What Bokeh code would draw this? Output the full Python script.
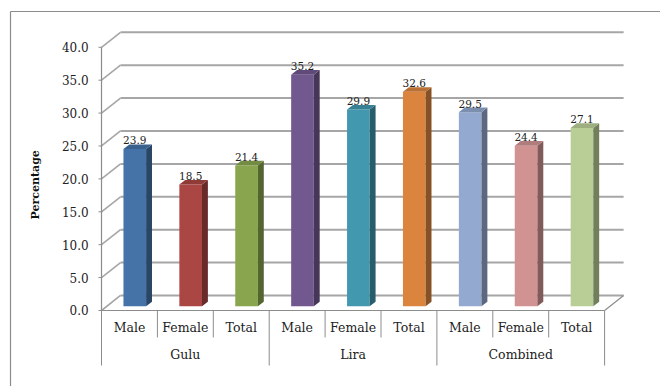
import math
from bokeh.plotting import figure
from bokeh.models import Range1d
from bokeh.core.properties import value
from bokeh.embed import file_html
from bokeh.resources import INLINE

# ---- data ----
GROUPS = ["Gulu", "Lira", "Combined"]
SUBS = ["Male", "Female", "Total"]
VALUES = [23.9, 18.5, 21.4, 35.2, 29.9, 32.6, 29.5, 24.4, 27.1]
COLORS = ["#4572A7", "#AA4643", "#89A54E", "#71588F", "#4198AF",
          "#DB843D", "#93A9CF", "#D19392", "#B9CD96"]
Y_TICKS = [0, 5, 10, 15, 20, 25, 30, 35, 40]
Y_LABEL = "Percentage"

# ---- styling / geometry (data units) ----
DX, DY = 0.34, 2.28          # depth of the 3D box
F0, F1 = 0.28, 0.59          # bar front / back depth fraction
W = 0.405                    # bar width
SUB_Y, GRP_Y = -2.54, -6.69
SUB_DIV, GRP_DIV = -4.1, -8.36
TICK_LEN, TICK_LBL_X = 0.054, -0.23
YLAB_X, YLAB_Y = -1.18, 19.1
BORDER_L, BORDER_T = -1.628, 45.44
SERIF = "DejaVu Serif"
GRID = "#a6a6a6"
AXC = "#8c8c8c"
TXT = "#222222"


def shade(c, f):
    r, g, b = int(c[1:3], 16), int(c[3:5], 16), int(c[5:7], 16)
    return "#%02x%02x%02x" % (int(r * f), int(g * f), int(b * f))


n = len(VALUES)
p = figure(width=660, height=386, output_backend="svg", toolbar_location=None,
           x_axis_location=None, y_axis_location=None,
           x_range=Range1d(-1.807, 10.0), y_range=Range1d(-11.55, 47.11),
           min_border=0)
p.background_fill_color = "white"
p.border_fill_color = "white"
p.outline_line_color = None
p.grid.visible = False

# outer chart border
p.segment(x0=[BORDER_L, BORDER_L], y0=[BORDER_T, BORDER_T],
          x1=[12, BORDER_L], y1=[BORDER_T, -14],
          line_color=AXC, line_width=1.2)

# back wall gridlines and left-wall diagonals
p.segment(x0=[DX] * len(Y_TICKS), y0=[t + DY for t in Y_TICKS],
          x1=[n + DX] * len(Y_TICKS), y1=[t + DY for t in Y_TICKS],
          line_color=GRID, line_width=2)
p.segment(x0=[0] * len(Y_TICKS), y0=Y_TICKS,
          x1=[DX] * len(Y_TICKS), y1=[t + DY for t in Y_TICKS],
          line_color=GRID, line_width=1.6)
# front value axis: line, ticks, labels
p.segment(x0=[0], y0=[Y_TICKS[0]], x1=[0], y1=[Y_TICKS[-1]],
          line_color=AXC, line_width=1.2)
p.segment(x0=[-TICK_LEN] * len(Y_TICKS), y0=Y_TICKS, x1=[0] * len(Y_TICKS),
          y1=Y_TICKS, line_color=AXC, line_width=1)
p.text(x=[TICK_LBL_X] * len(Y_TICKS), y=Y_TICKS,
       text=["%.1f" % t for t in Y_TICKS],
       text_font=value(SERIF), text_font_size="12px", text_color=TXT,
       text_align="right", text_baseline="middle")
p.text(x=[YLAB_X], y=[YLAB_Y], text=[Y_LABEL], angle=math.pi / 2,
       text_font=value(SERIF), text_font_size="11px", text_font_style="bold",
       text_color="#111111", text_align="center", text_baseline="middle")
# floor edges
p.segment(x0=[0, n], y0=[0, 0], x1=[n, n + DX], y1=[0, DY],
          line_color=AXC, line_width=1.2)

# bars
cx = [i + 0.5 for i in range(n)]
L = [c - W / 2 for c in cx]
R = [c + W / 2 for c in cx]
fx, fy, bx, by = F0 * DX, F0 * DY, F1 * DX, F1 * DY
p.quad(left=[l + fx for l in L], right=[r + fx for r in R],
       bottom=[fy] * n, top=[v + fy for v in VALUES],
       fill_color=COLORS, line_color=None)
side_xs = [[r + fx, r + bx, r + bx, r + fx] for r in R]
side_ys = [[fy, by, v + by, v + fy] for v in VALUES]
p.patches(side_xs, side_ys, fill_color=[shade(c, 0.62) for c in COLORS],
          line_color=None)
top_xs = [[l + fx, r + fx, r + bx, l + bx] for l, r in zip(L, R)]
top_ys = [[v + fy, v + fy, v + by, v + by] for v in VALUES]
p.patches(top_xs, top_ys, fill_color=[shade(c, 0.85) for c in COLORS],
          line_color=None)

# data labels
p.text(x=[c + fx for c in cx], y=[v + by for v in VALUES],
       text=["%.1f" % v for v in VALUES], y_offset=-4,
       text_font=value(SERIF), text_font_size="10.5px", text_color=TXT,
       text_align="center", text_baseline="alphabetic")

# category axis (two levels)
p.text(x=cx, y=[SUB_Y] * n, text=SUBS * len(GROUPS),
       text_font=value(SERIF), text_font_size="12.5px", text_color=TXT,
       text_align="center", text_baseline="middle")
gcx = [g * len(SUBS) + len(SUBS) / 2 for g in range(len(GROUPS))]
p.text(x=gcx, y=[GRP_Y] * len(GROUPS), text=GROUPS,
       text_font=value(SERIF), text_font_size="12.5px", text_color=TXT,
       text_align="center", text_baseline="middle")
sub_div = [i for i in range(1, n) if i % len(SUBS) != 0]
grp_div = [g * len(SUBS) for g in range(len(GROUPS) + 1)]
p.segment(x0=sub_div, y0=[0] * len(sub_div), x1=sub_div,
          y1=[SUB_DIV] * len(sub_div), line_color=AXC, line_width=1)
p.segment(x0=grp_div, y0=[0] * len(grp_div), x1=grp_div,
          y1=[GRP_DIV] * len(grp_div), line_color=AXC, line_width=1)

open("out.html", "w").write(file_html(p, INLINE))
